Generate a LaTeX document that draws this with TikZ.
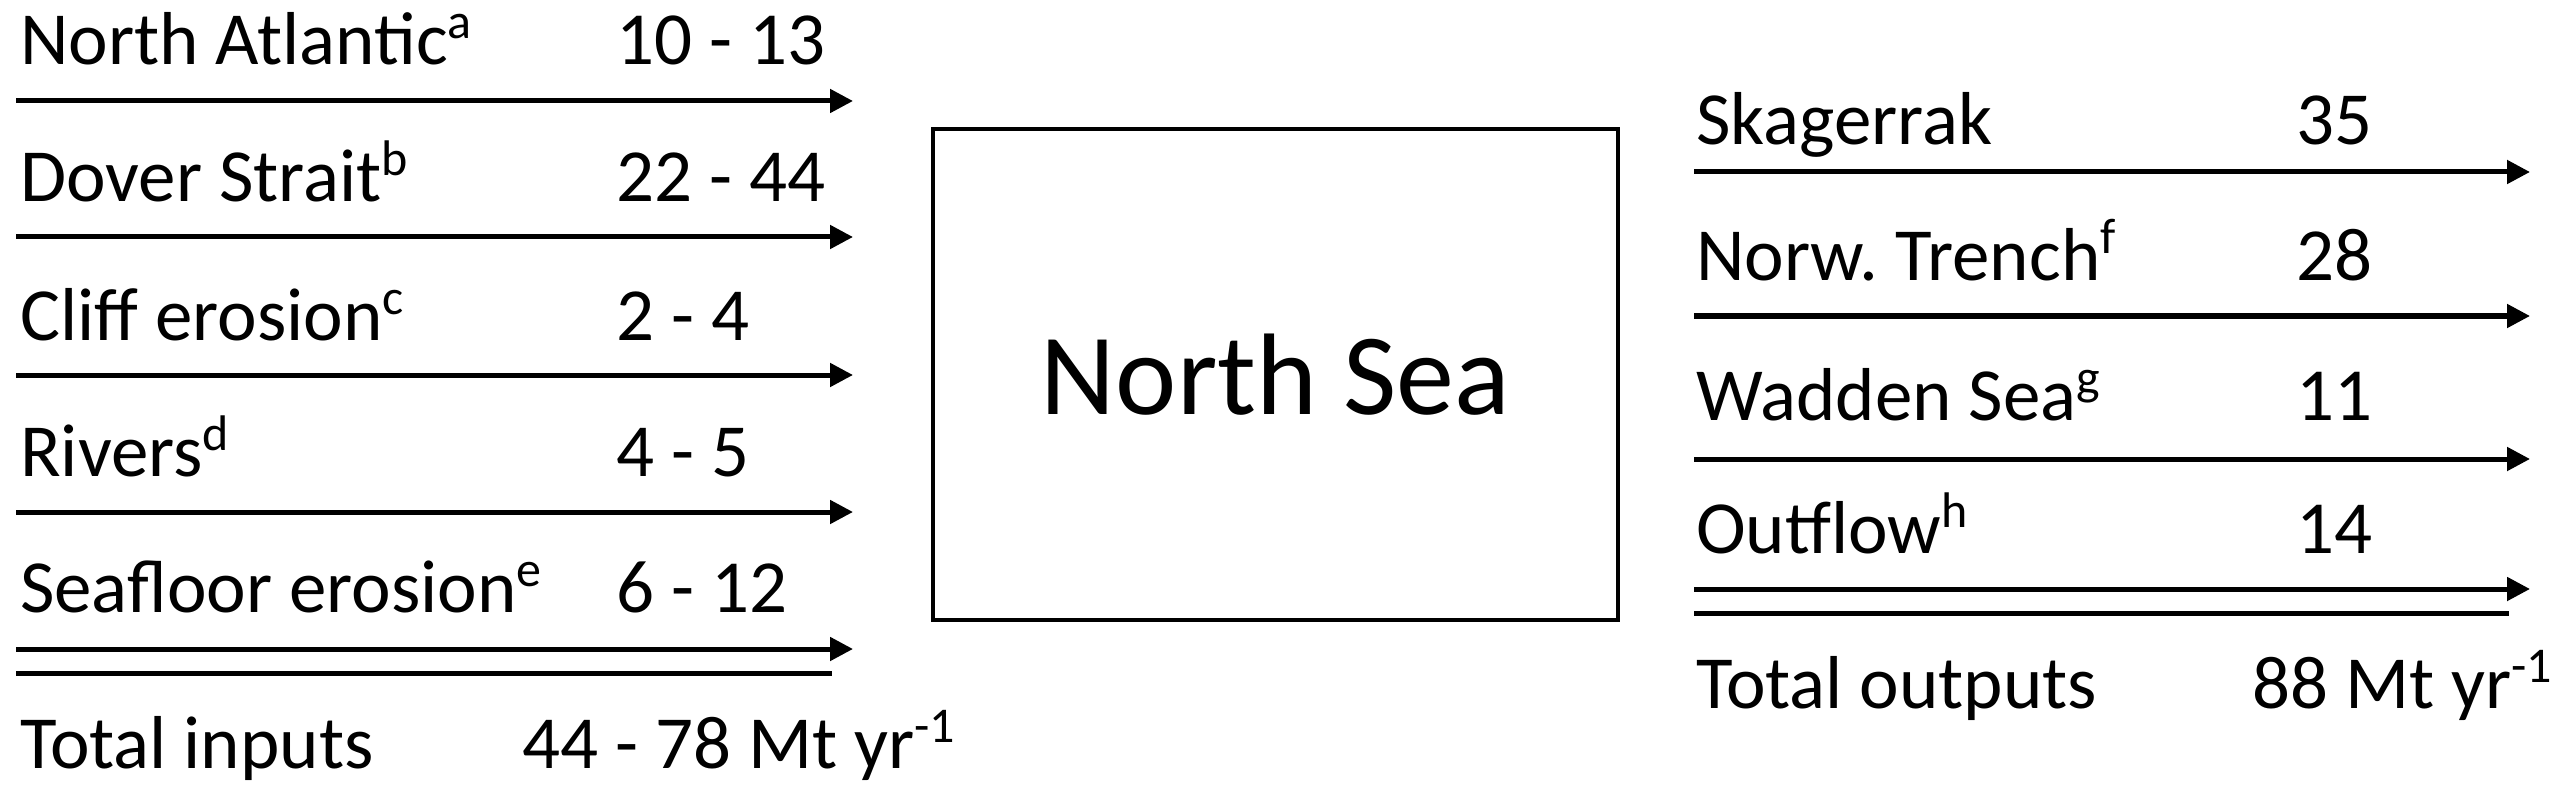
\documentclass[tikz,border=0pt]{standalone}
\usepackage{fontspec}
\setmainfont{Carlito}
\usetikzlibrary{arrows.meta}
\usetikzlibrary{positioning}
\newcommand{\sups}[1]{\raisebox{26pt}{\fontsize{50}{52}\selectfont #1}}

\begin{document}
\begin{tikzpicture}
		[x=1pt,y=-1pt,every node/.style={inner sep=0pt,anchor=base west,font=\fontsize{75}{90}\selectfont},
		flow/.style={line width=5pt,-{Triangle[length=23pt,width=23pt]}},
		rule/.style={line width=5pt}]
		\useasboundingbox (0,0) rectangle (2559,786);
		% inputs
		\node (in1) at (20,65)  {North Atlantic\sups{a}};
		\node (in2) at (20,202) {Dover Strait\sups{b}};
		\node (in3) at (20,340) {Cliff erosion\sups{c}};
		\node (in4) at (20,476) {Rivers\sups{d}};
		\node (in5) at (20,612) {Seafloor erosion\sups{e}};
		\node (vin1) at (616,65)  {10 - 13};
		\node (vin2) at (616,202) {22 - 44};
		\node (vin3) at (616,340) {2 - 4};
		\node (vin4) at (616,476) {4 - 5};
		\node (vin5) at (616,612) {6 - 12};
		\node (tin) at (20,768)   {Total inputs};
		\node (vtin) at (522,768) {44 - 78 Mt yr\sups{-1}};
		% north sea
		\node (sea) at (1275.5,374.5) [anchor=center,draw,line width=4pt,minimum width=685pt,minimum height=491pt,
			font=\fontsize{116}{130}\selectfont] {North Sea};
		% outputs
		\node (out1) at (1696,145) {Skagerrak};
		\node (out2) at (1696,280) {Norw.\ Trench\sups{f}};
		\node (out3) at (1696,420) {Wadden Sea\sups{g}};
		\node (out4) at (1696,553) {Outflow\sups{h}};
		\node (vout1) at (2296,145) {35};
		\node (vout2) at (2296,280) {28};
		\node (vout3) at (2296,420) {11};
		\node (vout4) at (2296,553) {14};
		\node (tout) at (1696,708)  {Total outputs};
		\node (vtout) at (2252,708) {88 Mt yr\sups{-1}};
		
		\foreach \n/\y in {1/101, 2/237, 3/375, 4/512, 5/649}
		{\coordinate (a\n) at (16,\y); \coordinate (b\n) at (853,\y);}
		\foreach \n/\y in {1/172, 2/316, 3/459, 4/589}
		{\coordinate (c\n) at (1694,\y); \coordinate (d\n) at (2530,\y);}
		\coordinate (sa) at (16,673);   \coordinate (sb) at (832,673);
		\coordinate (sc) at (1694,613); \coordinate (sd) at (2509,613);
		
		\foreach \from/\to in 
		{a1/b1, a2/b2, a3/b3, a4/b4, a5/b5, c1/d1, c2/d2, c3/d3, c4/d4}
		\draw[flow] (\from) -- (\to);
		\foreach \from/\to in {sa/sb, sc/sd}
		\draw[rule] (\from) -- (\to);
		\end{tikzpicture}
\end{document}
